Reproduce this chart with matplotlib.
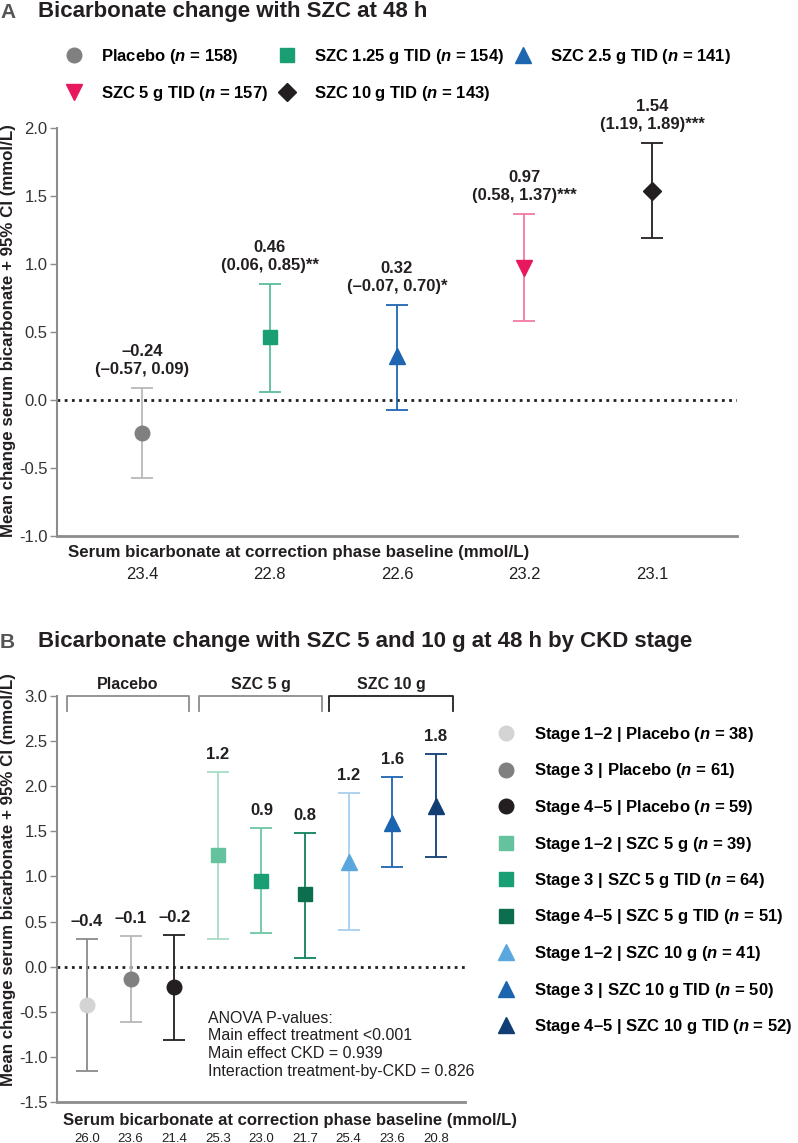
import matplotlib
matplotlib.use("Agg")
import matplotlib.pyplot as plt

# Dados do painel A
grupos_a = ["Placebo", "SZC 1.25 g TID", "SZC 2.5 g TID", "SZC 5 g TID", "SZC 10 g TID"]
n_a = [158, 154, 141, 157, 143]
media_a = [-0.24, 0.46, 0.32, 0.97, 1.54]
ic_inf_a = [-0.57, 0.06, -0.07, 0.58, 1.19]
ic_sup_a = [0.09, 0.85, 0.70, 1.37, 1.89]
signif_a = ["", "**", "*", "***", "***"]
basal_a = ["23.4", "22.8", "22.6", "23.2", "23.1"]

# Dados do painel B
grupos_b = ["Stage 1\u20132 | Placebo", "Stage 3 | Placebo", "Stage 4\u20135 | Placebo",
            "Stage 1\u20132 | SZC 5 g", "Stage 3 | SZC 5 g TID", "Stage 4\u20135 | SZC 5 g TID",
            "Stage 1\u20132 | SZC 10 g", "Stage 3 | SZC 10 g TID", "Stage 4\u20135 | SZC 10 g TID"]
n_b = [38, 61, 59, 39, 64, 51, 41, 50, 52]
media_b = [-0.42, -0.14, -0.23, 1.24, 0.95, 0.80, 1.16, 1.59, 1.78]
ic_inf_b = [-1.16, -0.61, -0.81, 0.31, 0.37, 0.10, 0.41, 1.10, 1.22]
ic_sup_b = [0.31, 0.34, 0.35, 2.16, 1.54, 1.48, 1.93, 2.10, 2.36]
rotulo_b = ["\u20130.4", "\u20130.1", "\u20130.2", "1.2", "0.9", "0.8", "1.2", "1.6", "1.8"]
basal_b = ["26.0", "23.6", "21.4", "25.3", "23.0", "21.7", "25.4", "23.6", "20.8"]
tratamentos_b = ["Placebo", "SZC 5 g", "SZC 10 g"]

W, H = 798, 1143


def fx(x):
    return x / W


def fy(y):
    return 1 - y / H


plt.rcParams['font.family'] = ['Liberation Sans', 'DejaVu Sans']
plt.rcParams['axes.unicode_minus'] = False
plt.rcParams['mathtext.fontset'] = 'custom'
plt.rcParams['mathtext.it'] = 'Liberation Sans:italic:bold'
plt.rcParams['mathtext.rm'] = 'Liberation Sans:bold'

PRETO = "#231f20"
CINZA = "#8c8c8c"


def fmt(v):
    s = f"{v:.2f}"
    return s.replace("-", "\u2013")


def estilo_eixo(ax, ticks):
    for lado in ["top", "right"]:
        ax.spines[lado].set_visible(False)
    ax.spines["left"].set_color(CINZA)
    ax.spines["left"].set_linewidth(1.5)
    ax.spines["bottom"].set_color(CINZA)
    ax.spines["bottom"].set_linewidth(2)
    ax.set_yticks(ticks)
    ax.set_yticklabels([f"{t:.1f}" for t in ticks])
    ax.tick_params(axis="y", length=5, width=1, color=CINZA, labelsize=12,
                   labelcolor="#333333", pad=2)
    ax.tick_params(axis="x", length=0, labelsize=12, labelcolor=PRETO)


fig = plt.figure(figsize=(W / 100, H / 100), dpi=100)

# ---------------- Painel A ----------------
ax_a = fig.add_axes([fx(57), fy(536), (737 - 57) / W, (536 - 128) / H])
cor_marc_a = ["#808080", "#1a9e74", "#1f66b1", "#e8185e", PRETO]
cor_erro_a = ["#b9b9b9", "#5dbd9a", "#1f66b1", "#f27ba3", PRETO]
cor_cap_a = ["#b9b9b9", "#8fd4bb", "#1f66b1", "#f27ba3", "#808080"]
marc_a = ["o", "s", "^", "v", "D"]
tam_a = [10.5, 10, 11.5, 11.5, 9]
xs_a = list(range(1, len(grupos_a) + 1))

handles_a = {}
for i, x in enumerate(xs_a):
    m = media_a[i]
    e = ax_a.errorbar([x], [m], yerr=[[m - ic_inf_a[i]], [ic_sup_a[i] - m]], fmt="none",
                      ecolor=cor_erro_a[i], elinewidth=1.3, capsize=8, capthick=1.3, zorder=2)
    for cap in e[1]:
        cap.set_color(cor_cap_a[i])
    h, = ax_a.plot([x], [m], marker=marc_a[i], color=cor_marc_a[i], markersize=tam_a[i],
                   linestyle="none", zorder=3,
                   label=f"{grupos_a[i]} ($n$ = {n_a[i]})")
    handles_a[i] = h
    ax_a.annotate(f"{fmt(m)}\n({fmt(ic_inf_a[i])}, {fmt(ic_sup_a[i])}){signif_a[i]}",
                  xy=(x, ic_sup_a[i]), xytext=(0, 8), textcoords="offset points",
                  ha="center", va="bottom", fontsize=12, fontweight="bold",
                  color=PRETO, linespacing=1.25, annotation_clip=False)

ax_a.axhline(0, color=PRETO, linestyle=(0, (1, 1.6)), linewidth=2, zorder=1)
ax_a.set_xlim(0.333, 5.667)
ax_a.set_ylim(-1.0, 2.0)
estilo_eixo(ax_a, [-1.0, -0.5, 0.0, 0.5, 1.0, 1.5, 2.0])
ax_a.set_xticks(xs_a)
ax_a.set_xticklabels(basal_a)
ax_a.tick_params(axis="x", pad=22)

ordem = [0, 3, 1, 4, 2]
fig.legend([handles_a[i] for i in ordem], [handles_a[i].get_label() for i in ordem],
           loc="upper left", bbox_to_anchor=(fx(66), fy(47)), ncol=3, frameon=False,
           prop={"weight": "bold", "size": 12}, handlelength=1.0, handletextpad=1.1,
           columnspacing=0.65, labelspacing=1.1, borderpad=0, borderaxespad=0)

fig.text(fx(0), fy(12), "A", fontsize=15, fontweight="bold", color="#555555", va="center")
fig.text(fx(38), fy(12), "Bicarbonate change with SZC at 48 h", fontsize=16,
         fontweight="bold", color=PRETO, va="center")
fig.text(fx(68), fy(553), "Serum bicarbonate at correction phase baseline (mmol/L)",
         fontsize=12.2, fontweight="bold", color=PRETO, va="center")
fig.text(fx(9), fy(331), "Mean change serum bicarbonate + 95% CI (mmol/L)", rotation=90,
         fontsize=12.2, fontweight="bold", color=PRETO, va="center", ha="center")

# ---------------- Painel B ----------------
ax_b = fig.add_axes([fx(57), fy(1102), (465 - 57) / W, (1102 - 696) / H])
cor_marc_b = ["#d4d4d4", "#808080", PRETO, "#64c39e", "#1a9e74", "#0d6e4f",
              "#5aa7dd", "#1a64b0", "#103e74"]
cor_erro_b = ["#8a8a8a", "#b8b8b8", PRETO, "#a8dcc6", "#6cc7a5", "#118060",
              "#a8d0ef", "#1a64b0", "#103e74"]
marc_b = ["o", "o", "o", "s", "s", "s", "^", "^", "^"]
tam_b = [10.5, 10.5, 10.5, 10, 10, 10, 11.5, 11.5, 11.5]
xs_b = list(range(1, len(grupos_b) + 1))

handles_b = []
for i, x in enumerate(xs_b):
    m = media_b[i]
    ax_b.errorbar([x], [m], yerr=[[m - ic_inf_b[i]], [ic_sup_b[i] - m]], fmt="none",
                  ecolor=cor_erro_b[i], elinewidth=1.3, capsize=8, capthick=1.3, zorder=2)
    h, = ax_b.plot([x], [m], marker=marc_b[i], color=cor_marc_b[i], markersize=tam_b[i],
                   linestyle="none", zorder=3,
                   label=f"{grupos_b[i]} ($n$ = {n_b[i]})")
    handles_b.append(h)
    ax_b.annotate(rotulo_b[i], xy=(x, ic_sup_b[i]), xytext=(0, 7), textcoords="offset points",
                  ha="center", va="bottom", fontsize=12, fontweight="bold", color=PRETO,
                  annotation_clip=False)

# colchetes dos tratamentos
limites = [(0.54, 3.34), (3.57, 6.39), (6.55, 9.39)]
cores_colchete = [CINZA, CINZA, PRETO]
for (a, b), nome, c in zip(limites, tratamentos_b, cores_colchete):
    ax_b.plot([a, a, b, b], [2.83, 3.0, 3.0, 2.83], color=c, linewidth=1.3, clip_on=False)
    ax_b.text((a + b) / 2, 3.13, nome, ha="center", va="center", fontsize=11.5,
              fontweight="bold", color=PRETO)

ax_b.axhline(0, color=PRETO, linestyle=(0, (1, 1.6)), linewidth=2, zorder=1)
ax_b.set_xlim(0.31, 9.67)
ax_b.set_ylim(-1.5, 3.0)
estilo_eixo(ax_b, [-1.5, -1.0, -0.5, 0.0, 0.5, 1.0, 1.5, 2.0, 2.5, 3.0])
ax_b.set_xticks(xs_b)
ax_b.set_xticklabels(basal_b)
ax_b.tick_params(axis="x", pad=22, labelsize=9.5)

ax_b.text(0.37, 0.225, "ANOVA P-values:\nMain effect treatment <0.001\nMain effect CKD = 0.939\n"
          "Interaction treatment-by-CKD = 0.826", transform=ax_b.transAxes, fontsize=11.5,
          color=PRETO, va="top", ha="left", linespacing=1.22)

fig.legend(handles_b, [h.get_label() for h in handles_b], loc="upper left",
           bbox_to_anchor=(fx(498), fy(725)), ncol=1, frameon=False,
           prop={"weight": "bold", "size": 12}, handlelength=1.0, handletextpad=1.15,
           labelspacing=1.05, borderpad=0, borderaxespad=0)

fig.text(fx(0), fy(642), "B", fontsize=15, fontweight="bold", color="#555555", va="center")
fig.text(fx(38), fy(642), "Bicarbonate change with SZC 5 and 10 g at 48 h by CKD stage",
         fontsize=16, fontweight="bold", color=PRETO, va="center")
fig.text(fx(63), fy(1121), "Serum bicarbonate at correction phase baseline (mmol/L)",
         fontsize=12, fontweight="bold", color=PRETO, va="center")
fig.text(fx(9), fy(880), "Mean change serum bicarbonate + 95% CI (mmol/L)", rotation=90,
         fontsize=12.2, fontweight="bold", color=PRETO, va="center", ha="center")

fig.savefig("out.png", dpi=100)
